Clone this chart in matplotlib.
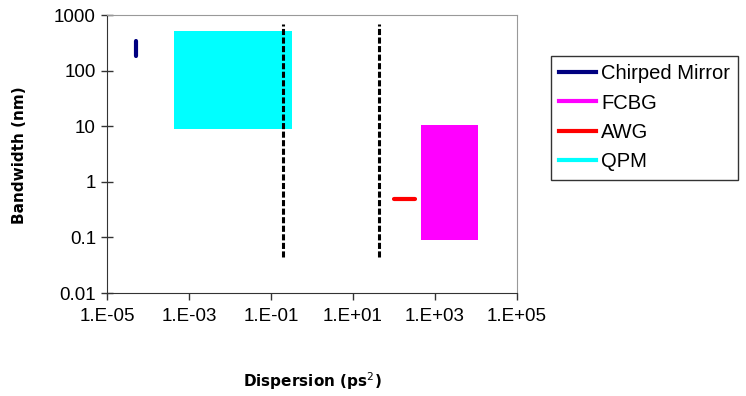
import matplotlib.pyplot as plt
from matplotlib.lines import Line2D
from matplotlib.ticker import FixedLocator, NullLocator

# bandwidth / dispersion ranges for each compression technology
chirped_x = [5e-5, 5e-5]
chirped_y = [180, 340]

awg_x = [100, 320]
awg_y = [0.5, 0.5]

fcbg_x = [450, 11000]
fcbg_y = [0.09, 10.5]

qpm_x = [4.3e-4, 0.33]
qpm_y = [9, 520]

# dispersion limits (vertical dashed markers)
limit_x = [0.2, 42]
limit_y = [0.045, 700]

x_ticks = [1e-5, 1e-3, 1e-1, 1e1, 1e3, 1e5]
x_labels = ["1.E-05", "1.E-03", "1.E-01", "1.E+01", "1.E+03", "1.E+05"]
y_ticks = [0.01, 0.1, 1, 10, 100, 1000]
y_labels = ["0.01", "0.1", "1", "10", "100", "1000"]

names = ["Chirped Mirror", "FCBG", "AWG", "QPM"]
colors = ["#000080", "#ff00ff", "#ff0000", "#00ffff"]

plt.rcParams["font.family"] = ["Liberation Sans", "DejaVu Sans"]

fig = plt.figure(figsize=(7.46, 3.96), dpi=100)
ax = fig.add_axes([107 / 746, 1 - 293 / 396, 410 / 746, 278 / 396])
ax.set_xscale("log")
ax.set_yscale("log")
ax.set_xlim(x_ticks[0], x_ticks[-1])
ax.set_ylim(y_ticks[0], y_ticks[-1])

ax.fill_between(qpm_x, qpm_y[0], qpm_y[1], color=colors[3], lw=0, zorder=2)
ax.fill_between(fcbg_x, fcbg_y[0], fcbg_y[1], color=colors[1], lw=0, zorder=2)
ax.plot(chirped_x, chirped_y, color=colors[0], lw=3, solid_capstyle="round", zorder=3)
ax.plot(awg_x, awg_y, color=colors[2], lw=3, solid_capstyle="round", zorder=3)
for xv in limit_x:
    ax.plot([xv, xv], limit_y, color="black", lw=2.2, linestyle=(0, (2, 0.8)), zorder=4)

ax.xaxis.set_major_locator(FixedLocator(x_ticks))
ax.xaxis.set_minor_locator(NullLocator())
ax.set_xticklabels(x_labels)
ax.yaxis.set_major_locator(FixedLocator(y_ticks))
ax.yaxis.set_minor_locator(NullLocator())
ax.set_yticklabels(y_labels)
ax.tick_params(axis="x", direction="out", length=5, width=1, labelsize=13.5, pad=6,
               colors="#333333", labelcolor="black")
ax.tick_params(axis="y", direction="inout", length=8, width=1, labelsize=13.5, pad=4,
               colors="#333333", labelcolor="black")

for side in ["top", "right"]:
    ax.spines[side].set_color("#999999")
for side in ["left", "bottom"]:
    ax.spines[side].set_color("#333333")

fig.text(312 / 746, 1 - 381 / 396, "Dispersion (ps$^2$)", ha="center", va="center",
         fontsize=11, fontweight="bold", family="DejaVu Sans")
fig.text(20 / 746, 1 - 155 / 396, "Bandwidth (nm)", ha="center", va="center",
         rotation=90, fontsize=11, fontweight="bold", family="DejaVu Sans")

handles = [Line2D([0], [0], color=c, lw=3) for c in colors]
leg = fig.legend(handles, names, loc="upper left", bbox_to_anchor=(551 / 746, 1 - 56 / 396),
                 bbox_transform=fig.transFigure, fontsize=14.5, frameon=True, fancybox=False,
                 handlelength=1.85, handletextpad=0.25, labelspacing=0.52,
                 borderpad=0.4, borderaxespad=0)
leg.get_frame().set_edgecolor("black")
leg.get_frame().set_linewidth(1)

fig.savefig("out.png", dpi=100)
